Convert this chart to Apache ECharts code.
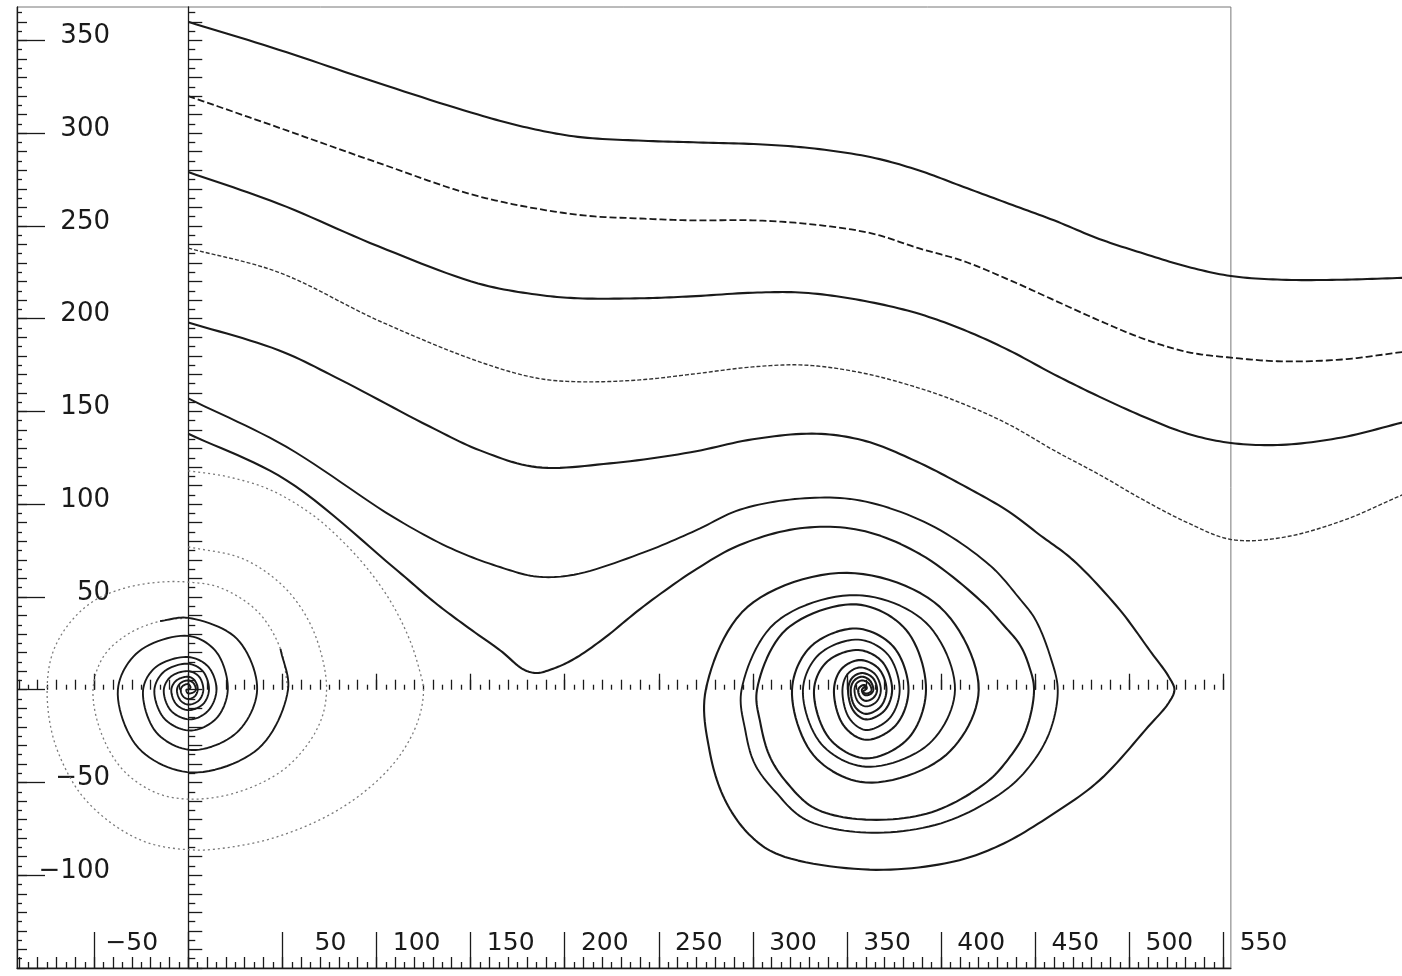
<!DOCTYPE html>
<html>
<head>
<meta charset="utf-8">
<title>Phase portrait</title>
<script src="https://cdn.jsdelivr.net/npm/echarts@6/dist/echarts.min.js"></script>
<style>
  html, body { margin: 0; padding: 0; background: #fff; }
  #chart { width: 1402px; height: 976px; }
</style>
</head>
<body>
<div id="chart"></div>
<script>
// tick labels
const xTickLabels = [-50, 50, 100, 150, 200, 250, 300, 350, 400, 450, 500, 550];
const yTickLabels = [-100, -50, 50, 100, 150, 200, 250, 300, 350];

// running trajectories (start on the axis x = 0)
const curveA = [[0,360],[48,345],[101,327],[154,310],[180,303],[207,298],[239,296],[271,295],[303,294],[330,292],[363,287],[388,280],[412,271],[436,262],[460,253],[484,243],[508,235],[531,228],[554,223],[581,221],[613,221],[645,222]];
const curveB = [[0,320],[48,303],[101,284],[154,266],[207,256],[240,254],[267,253],[300,253],[330,251],[363,246],[388,238],[412,231],[436,221],[460,210],[484,199],[508,189],[531,182],[554,179],[581,177],[613,178],[645,182]];
const curveC = [[0,279],[48,262],[101,239],[154,219],[185,213],[207,211],[240,211],[267,212],[300,214],[327,214],[357,210],[387,203],[412,194],[436,183],[460,170],[484,158],[508,147],[531,138],[554,133],[581,132],[613,136],[645,144]];
const curveD = [[0,238],[48,225],[101,199],[154,177],[185,168],[207,166],[240,167],[267,170],[300,174],[327,175],[357,171],[387,163],[412,154],[436,143],[460,129],[484,116],[508,102],[531,90],[554,81],[581,82],[613,91],[645,105]];

// trajectories captured by the right focus
const curveE = [[0,198],[48,183],[81,167],[128,142],[155,129],[185,120],[224,122],[267,128],[300,135],[334,138],[360,134],[387,123],[412,110],[436,96],[453,83],[470,70],[495,43],[511,21],[521,7],[524,0],[521,-7],[510,-20],[484,-49],[458,-68],[431,-84],[405,-93],[362,-97],[314,-89],[298,-78],[285,-59],[277,-33],[275,0],[297,44.5],[350,63],[399.5,44.5],[420,0],[402.4,-35.4],[360,-50],[332.3,-35.4],[320.8,0],[330.8,23.3],[355,33],[374.6,23.3],[382.7,0],[376,-19.1],[360,-27],[348.1,-19.1],[343.1,0],[347.2,11.3],[357,16],[366.9,11.3],[371,0],[367.8,-9.2],[360,-13],[354.3,-9.2],[352,0],[353.8,4.9],[358,7],[362.2,4.9],[364,0],[362.8,-2.1],[360,-3],[358.6,-2.1],[358,0],[359.5,1.5],[360,0]];
const curveF = [[0,157],[52,131],[109,93],[140,76],[166,66],[185,61],[205,62],[242,74],[270,86],[293,97],[325,103],[357,102],[394,89],[426,67],[441,50],[450,38],[458,18],[462,0],[458,-22],[448,-40],[433,-55],[400,-72],[360,-77],[328,-70],[312,-55],[301,-40],[296,-22],[294,0],[311.9,36.1],[355,51],[392,36.1],[407.4,0],[393.5,-29.3],[360,-41.5],[336.4,-29.3],[326.6,0],[335.2,19.1],[356,27],[371.6,19.1],[378,0],[372.7,-15.3],[360,-21.7],[351.2,-15.3],[347.6,0],[350.4,8.5],[357,12],[364.8,8.5],[368,0],[365.7,-6.4],[360,-9],[355.8,-6.4],[354,0],[355.2,3.5],[358,5],[361.5,3.5],[363,0],[362,-1.5],[360,-2],[358.5,-1],[360,0]];
const curveG = [[0,138],[52,113],[109,66],[131,47],[148,34],[166,21],[178,11],[185,9],[193,11],[204,16],[220,27],[242,45],[270,65],[293,78],[325,87],[357,86],[389,73],[421,48],[433,35],[442,24],[447,12],[449.4,0],[445,-22],[436,-37],[424,-50],[395,-66],[360,-70],[333,-64],[318,-50],[309,-36],[304,-18],[302.2,0],[317.7,32.5],[355,46],[381.2,32.5],[392,0],[382.6,-26.2],[360,-37],[340.6,-26.2],[332.5,0],[339.4,15.1],[356,21.4],[368.7,15.1],[374,0],[369.9,-11.3],[360,-16],[353.4,-11.3],[350.6,0],[352.8,6.4],[358,9],[363.7,6.4],[366,0],[364.2,-4.2],[360,-6],[357.2,-4.2],[356,0],[357.5,2],[359.5,2.5],[360.5,1],[360,0]];

// trajectories captured by the left focus (outer turns drawn faint, inner solid)
const spiral120Outer = [[0,118],[20,115],[43,108],[65,95],[81,81],[97,63],[109,45],[118,26],[123,10],[125,0],[122,-17],[112,-36],[96,-53],[74,-68],[45,-80],[18,-85.5],[3,-86.4],[-20,-83],[-38,-74],[-54,-60],[-63,-47],[-72,-25],[-75,0],[-72,20],[-63,36],[-50,48],[-33,55],[-15,58],[0,58],[17,55],[37,42],[49,22],[53,0]];
const spiral120Inner = [[49,22],[53,0],[37.5,-31.5],[2,-44.6],[-26.4,-31.5],[-37.4,0],[-26.4,20.5],[0,29],[14.8,20.5],[21,0],[14.8,-15.6],[1,-22],[-12.7,-15.6],[-18,0],[-12.7,9.9],[0,14],[7.8,9.9],[11,0],[7.8,-7.8],[0,-11],[-6.4,-7.8],[-9,0],[-6.4,4.9],[0,7],[3.5,4.9],[5,0],[3.5,-3.5],[0,-5],[-2.8,-3.5],[-4,0],[-2.8,2.1],[0,3],[1.2,1.2],[0,0]];
const spiral80Outer = [[0,77],[28,71],[47,59],[60,44],[69,25],[73.5,0],[69,-20],[52,-42],[27,-55],[3,-59],[-16,-56],[-34,-44],[-46,-24],[-50.6,0],[-45,18],[-32,30],[-15,37],[0,38.7]];
const spiral80Inner = [[-15,37],[0,38.7],[25.9,27.4],[36.6,0],[25.9,-23],[2,-32.5],[-17,-23],[-24,0],[-17,12.4],[0,17.6],[10.6,12.4],[15,0],[10.6,-11.3],[1,-16],[-9.2,-11.3],[-13,0],[-9.2,7.1],[0,10],[5.7,7.1],[8,0],[5.7,-5.7],[0,-8],[-4.2,-5.7],[-6,0],[-4.2,3.5],[0,5],[2.8,3.5],[4,0],[2.8,-1.4],[0,-2],[-0.7,-1.4],[-1,0],[0,0]];

// plot geometry
const PX_PER_X = 1.882;
const PLOT_LEFT = 17, PLOT_TOP = 7, PLOT_HEIGHT = 961;
const X_MIN = -91, X_FRAME_MAX = 554, X_VIEW_MAX = 645;
const Y_MIN = -150, Y_MAX = 368;
const INK = '#1a1a1a';
const FONT = 'DejaVu Sans';

const xToPx = v => PLOT_LEFT + (v - X_MIN) * PX_PER_X;
const yToPx = v => PLOT_TOP + (Y_MAX - v) / (Y_MAX - Y_MIN) * PLOT_HEIGHT;
const minus = v => String(v).replace('-', '\u2212');

const steps = (from, to, step) => {
  const out = [];
  for (let v = from; v <= to + 1e-9; v += step) out.push(v);
  return out;
};

// centripetal catmull-rom through the projected points (pixel space)
const spline = (pts, n) => {
  if (pts.length < 3) return pts;
  const ext = (a, b) => [2 * a[0] - b[0], 2 * a[1] - b[1]];
  const p = [ext(pts[0], pts[1]), ...pts, ext(pts[pts.length - 1], pts[pts.length - 2])];
  const knot = (a, b) => Math.sqrt(Math.hypot(b[0] - a[0], b[1] - a[1])) || 1e-4;
  const lerp = (a, b, ta, tb, t) => {
    const u = (t - ta) / (tb - ta);
    return [a[0] + (b[0] - a[0]) * u, a[1] + (b[1] - a[1]) * u];
  };
  const out = [pts[0]];
  for (let i = 1; i < p.length - 2; i++) {
    const [p0, p1, p2, p3] = [p[i - 1], p[i], p[i + 1], p[i + 2]];
    const t0 = 0, t1 = knot(p0, p1), t2 = t1 + knot(p1, p2), t3 = t2 + knot(p2, p3);
    for (let k = 1; k <= n; k++) {
      const t = t1 + (t2 - t1) * k / n;
      const a1 = lerp(p0, p1, t0, t1, t), a2 = lerp(p1, p2, t1, t2, t), a3 = lerp(p2, p3, t2, t3, t);
      const b1 = lerp(a1, a2, t0, t2, t), b2 = lerp(a2, a3, t1, t3, t);
      out.push(lerp(b1, b2, t1, t2, t));
    }
  }
  return out;
};

const tickAxis = (gridIndex, position, min, max, values, length, extra = {}) => ({
  type: 'value',
  gridIndex,
  position,
  min,
  max,
  offset: 0,
  axisLine: { show: false, onZero: false },
  axisTick: { show: true, inside: true, length, customValues: values, lineStyle: { color: INK, width: 1.3 } },
  axisLabel: { show: false },
  splitLine: { show: false },
  ...extra,
});

const hiddenAxis = (gridIndex, min, max) => ({
  type: 'value', gridIndex, min, max, show: false,
  axisLine: { onZero: false }, splitLine: { show: false },
});

// one smooth path per trajectory, positioned with the axes' own coord()
const trace = (data, style) => ({
  type: 'custom',
  xAxisIndex: 0,
  yAxisIndex: 0,
  data,
  silent: true,
  animation: false,
  clip: true,
  renderItem: (params, api) => {
    if (params.dataIndex !== 0) return null;
    const pts = data.map(d => api.coord(d));
    return {
      type: 'polyline',
      shape: { points: spline(pts, 12) },
      style: { fill: null, stroke: style.color, lineWidth: style.width, lineDash: style.dash || null, lineJoin: 'round' },
    };
  },
});

const solid = { color: INK, width: 2.1 };
const faint = { color: '#7a7a7a', width: 1.3, dash: [2, 3] };

const frameWidth = (X_FRAME_MAX - X_MIN) * PX_PER_X;

const chart = echarts.init(document.getElementById('chart'));
chart.setOption({
  animation: false,
  backgroundColor: '#fff',
  grid: [
    // curves: run past the frame to the right edge
    { left: PLOT_LEFT, top: PLOT_TOP, width: (X_VIEW_MAX - X_MIN) * PX_PER_X, height: PLOT_HEIGHT, outerBoundsMode: 'none' },
    // frame with scales
    { left: PLOT_LEFT, top: PLOT_TOP, width: frameWidth, height: PLOT_HEIGHT, show: true, borderColor: '#777', borderWidth: 1, outerBoundsMode: 'none' },
    // axis x = 0
    { left: xToPx(0), top: PLOT_TOP, width: 100, height: PLOT_HEIGHT, outerBoundsMode: 'none' },
    // axis y = 0
    { left: PLOT_LEFT, top: PLOT_TOP, width: frameWidth, height: yToPx(0) - PLOT_TOP, outerBoundsMode: 'none' },
  ],
  xAxis: [
    hiddenAxis(0, X_MIN, X_VIEW_MAX),
    tickAxis(1, 'bottom', X_MIN, X_FRAME_MAX, steps(-50, 550, 50), 36, {
      axisLine: { show: true, onZero: false, lineStyle: { color: INK, width: 1.3 } },
      axisLabel: {
        show: true,
        inside: true,
        customValues: xTickLabels,
        margin: 12,
        align: 'left',
        formatter: v => '{n|' + minus(v) + '}',
        rich: { n: { width: 64, align: 'right', fontFamily: FONT, fontSize: 25, color: INK } },
      },
    }),
    tickAxis(1, 'bottom', X_MIN, X_FRAME_MAX, steps(-90, 550, 10), 11),
    tickAxis(1, 'bottom', X_MIN, X_FRAME_MAX, steps(-85, 545, 10), 6),
    hiddenAxis(2, 0, 100),
    tickAxis(3, 'bottom', X_MIN, X_FRAME_MAX, steps(-50, 550, 50), 16),
    tickAxis(3, 'bottom', X_MIN, X_FRAME_MAX, steps(-90, 550, 10), 10),
    tickAxis(3, 'bottom', X_MIN, X_FRAME_MAX, steps(-85, 545, 10), 5),
  ],
  yAxis: [
    hiddenAxis(0, Y_MIN, Y_MAX),
    tickAxis(1, 'left', Y_MIN, Y_MAX, steps(-150, 350, 50), 28, {
      axisLine: { show: true, onZero: false, lineStyle: { color: INK, width: 1.3 } },
      axisLabel: {
        show: true,
        inside: true,
        customValues: yTickLabels,
        margin: 93,
        align: 'right',
        formatter: v => '{n|' + minus(v) + '}',
        rich: { n: { padding: [0, 0, 8, 0], fontFamily: FONT, fontSize: 26, color: INK } },
      },
    }),
    tickAxis(1, 'left', Y_MIN, Y_MAX, steps(-140, 360, 10), 10),
    tickAxis(1, 'left', Y_MIN, Y_MAX, steps(-145, 365, 10), 5),
    tickAxis(2, 'left', Y_MIN, Y_MAX, steps(-150, 360, 10), 14, {
      axisLine: { show: true, onZero: false, lineStyle: { color: INK, width: 1.3 } },
    }),
    tickAxis(2, 'left', Y_MIN, Y_MAX, steps(-145, 365, 10), 7),
    hiddenAxis(3, 0, 100),
  ],
  series: [
    trace(curveA, solid),
    trace(curveB, { color: INK, width: 1.8, dash: [7, 3] }),
    trace(curveC, solid),
    trace(curveD, { color: '#333', width: 1.4, dash: [4, 2] }),
    trace(curveE, solid),
    trace(curveF, { color: INK, width: 1.9 }),
    trace(curveG, solid),
    trace(spiral120Outer, faint),
    trace(spiral120Inner, { color: INK, width: 1.9 }),
    trace(spiral80Outer, faint),
    trace(spiral80Inner, { color: INK, width: 1.9 }),
  ],
});
</script>
</body>
</html>
